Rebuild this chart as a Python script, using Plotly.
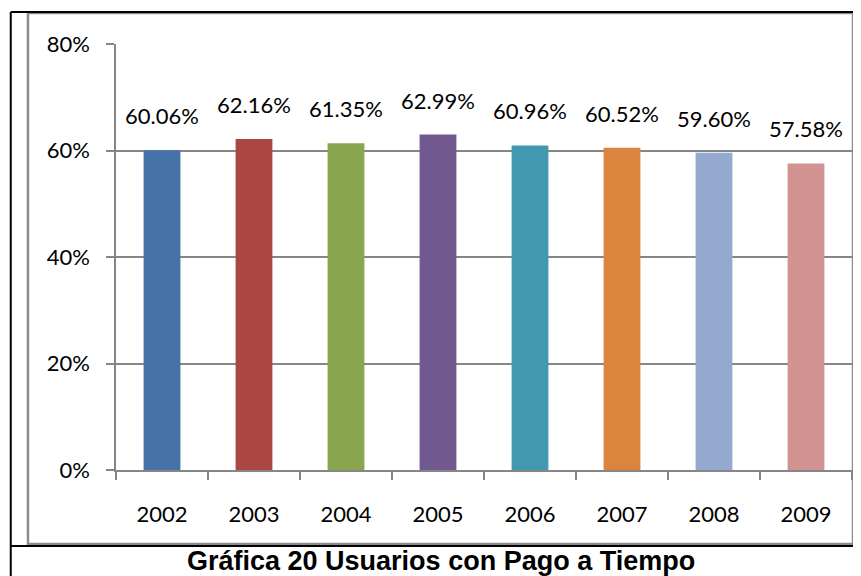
import plotly.graph_objects as go

years = ["2002", "2003", "2004", "2005", "2006", "2007", "2008", "2009"]
pago_tiempo = [0.6006, 0.6216, 0.6135, 0.6299, 0.6096, 0.6052, 0.5960, 0.5758]
colores = ["#4573A7", "#AA4644", "#89A54E", "#71588F",
           "#4198AF", "#DB843D", "#93A9CF", "#D19392"]
titulo = "Gráfica 20 Usuarios con Pago a Tiempo"

fnt = dict(family="Lato, Open Sans, sans-serif", size=22, color="#000000")

fig = go.Figure()
fig.add_trace(go.Bar(x=years, y=pago_tiempo, marker=dict(color=colores, line=dict(width=0)),
                     width=0.4, hoverinfo="x+y"))

# etiquetas de datos (x como indice de categoria)
for i, v in enumerate(pago_tiempo):
    fig.add_annotation(x=i, y=v, text="{:.2f}%".format(v * 100), showarrow=False,
                       yanchor="bottom", yshift=19, font=fnt)

gris = "#868686"
# la pagina tiene 8px de margen en el body, se compensa aqui
fig.update_layout(
    width=861, height=576,
    margin=dict(l=108, r=17, t=36, b=114),
    paper_bgcolor="white", plot_bgcolor="white",
    showlegend=False,
    font=fnt,
    xaxis=dict(type="category", range=[-0.5, len(years) - 0.5], showgrid=False,
               showline=True, linecolor=gris, linewidth=1.5,
               ticks="outside", tickson="boundaries", ticklen=8, tickcolor=gris, tickwidth=1.5,
               ticklabelstandoff=24, tickfont=fnt, tickangle=0),
    yaxis=dict(range=[0, 0.8], tickvals=[0, 0.2, 0.4, 0.6, 0.8], tickformat=".0%",
               showgrid=True, gridcolor=gris, gridwidth=1.5, zeroline=False,
               showline=True, linecolor=gris, linewidth=1.5,
               ticks="outside", ticklen=8, tickcolor=gris, tickwidth=1.5,
               ticklabelstandoff=12, tickfont=fnt),
    bargap=0.6,
)

# marco gris del grafico
fig.add_shape(type="rect", xref="paper", yref="paper", x0=-0.1196, x1=1.0014, y0=-0.1737, y1=1.0728,
              line=dict(color="#8c8c8c", width=2.5), layer="below")
# bordes negros de la tabla
fig.add_shape(type="line", xref="paper", yref="paper", x0=-0.143, x1=1.03, y0=1.075, y1=1.075,
              line=dict(color="black", width=2))
fig.add_shape(type="line", xref="paper", yref="paper", x0=-0.143, x1=-0.143, y0=1.075, y1=-0.3,
              line=dict(color="black", width=2))
fig.add_shape(type="line", xref="paper", yref="paper", x0=-0.143, x1=1.03, y0=-0.1785, y1=-0.1785,
              line=dict(color="black", width=2))
fig.add_shape(type="line", xref="paper", yref="paper", x0=1.0075, x1=1.0075, y0=1.075, y1=-0.3,
              line=dict(color="black", width=2))

fig.add_annotation(text="<b>" + titulo + "</b>", xref="paper", yref="paper", x=(441 - 116) / 736,
                   y=(470 - 561) / 426, showarrow=False, yanchor="middle",
                   font=dict(family="Liberation Sans, Arial", size=27, color="black"))

fig.write_html("out.html")
